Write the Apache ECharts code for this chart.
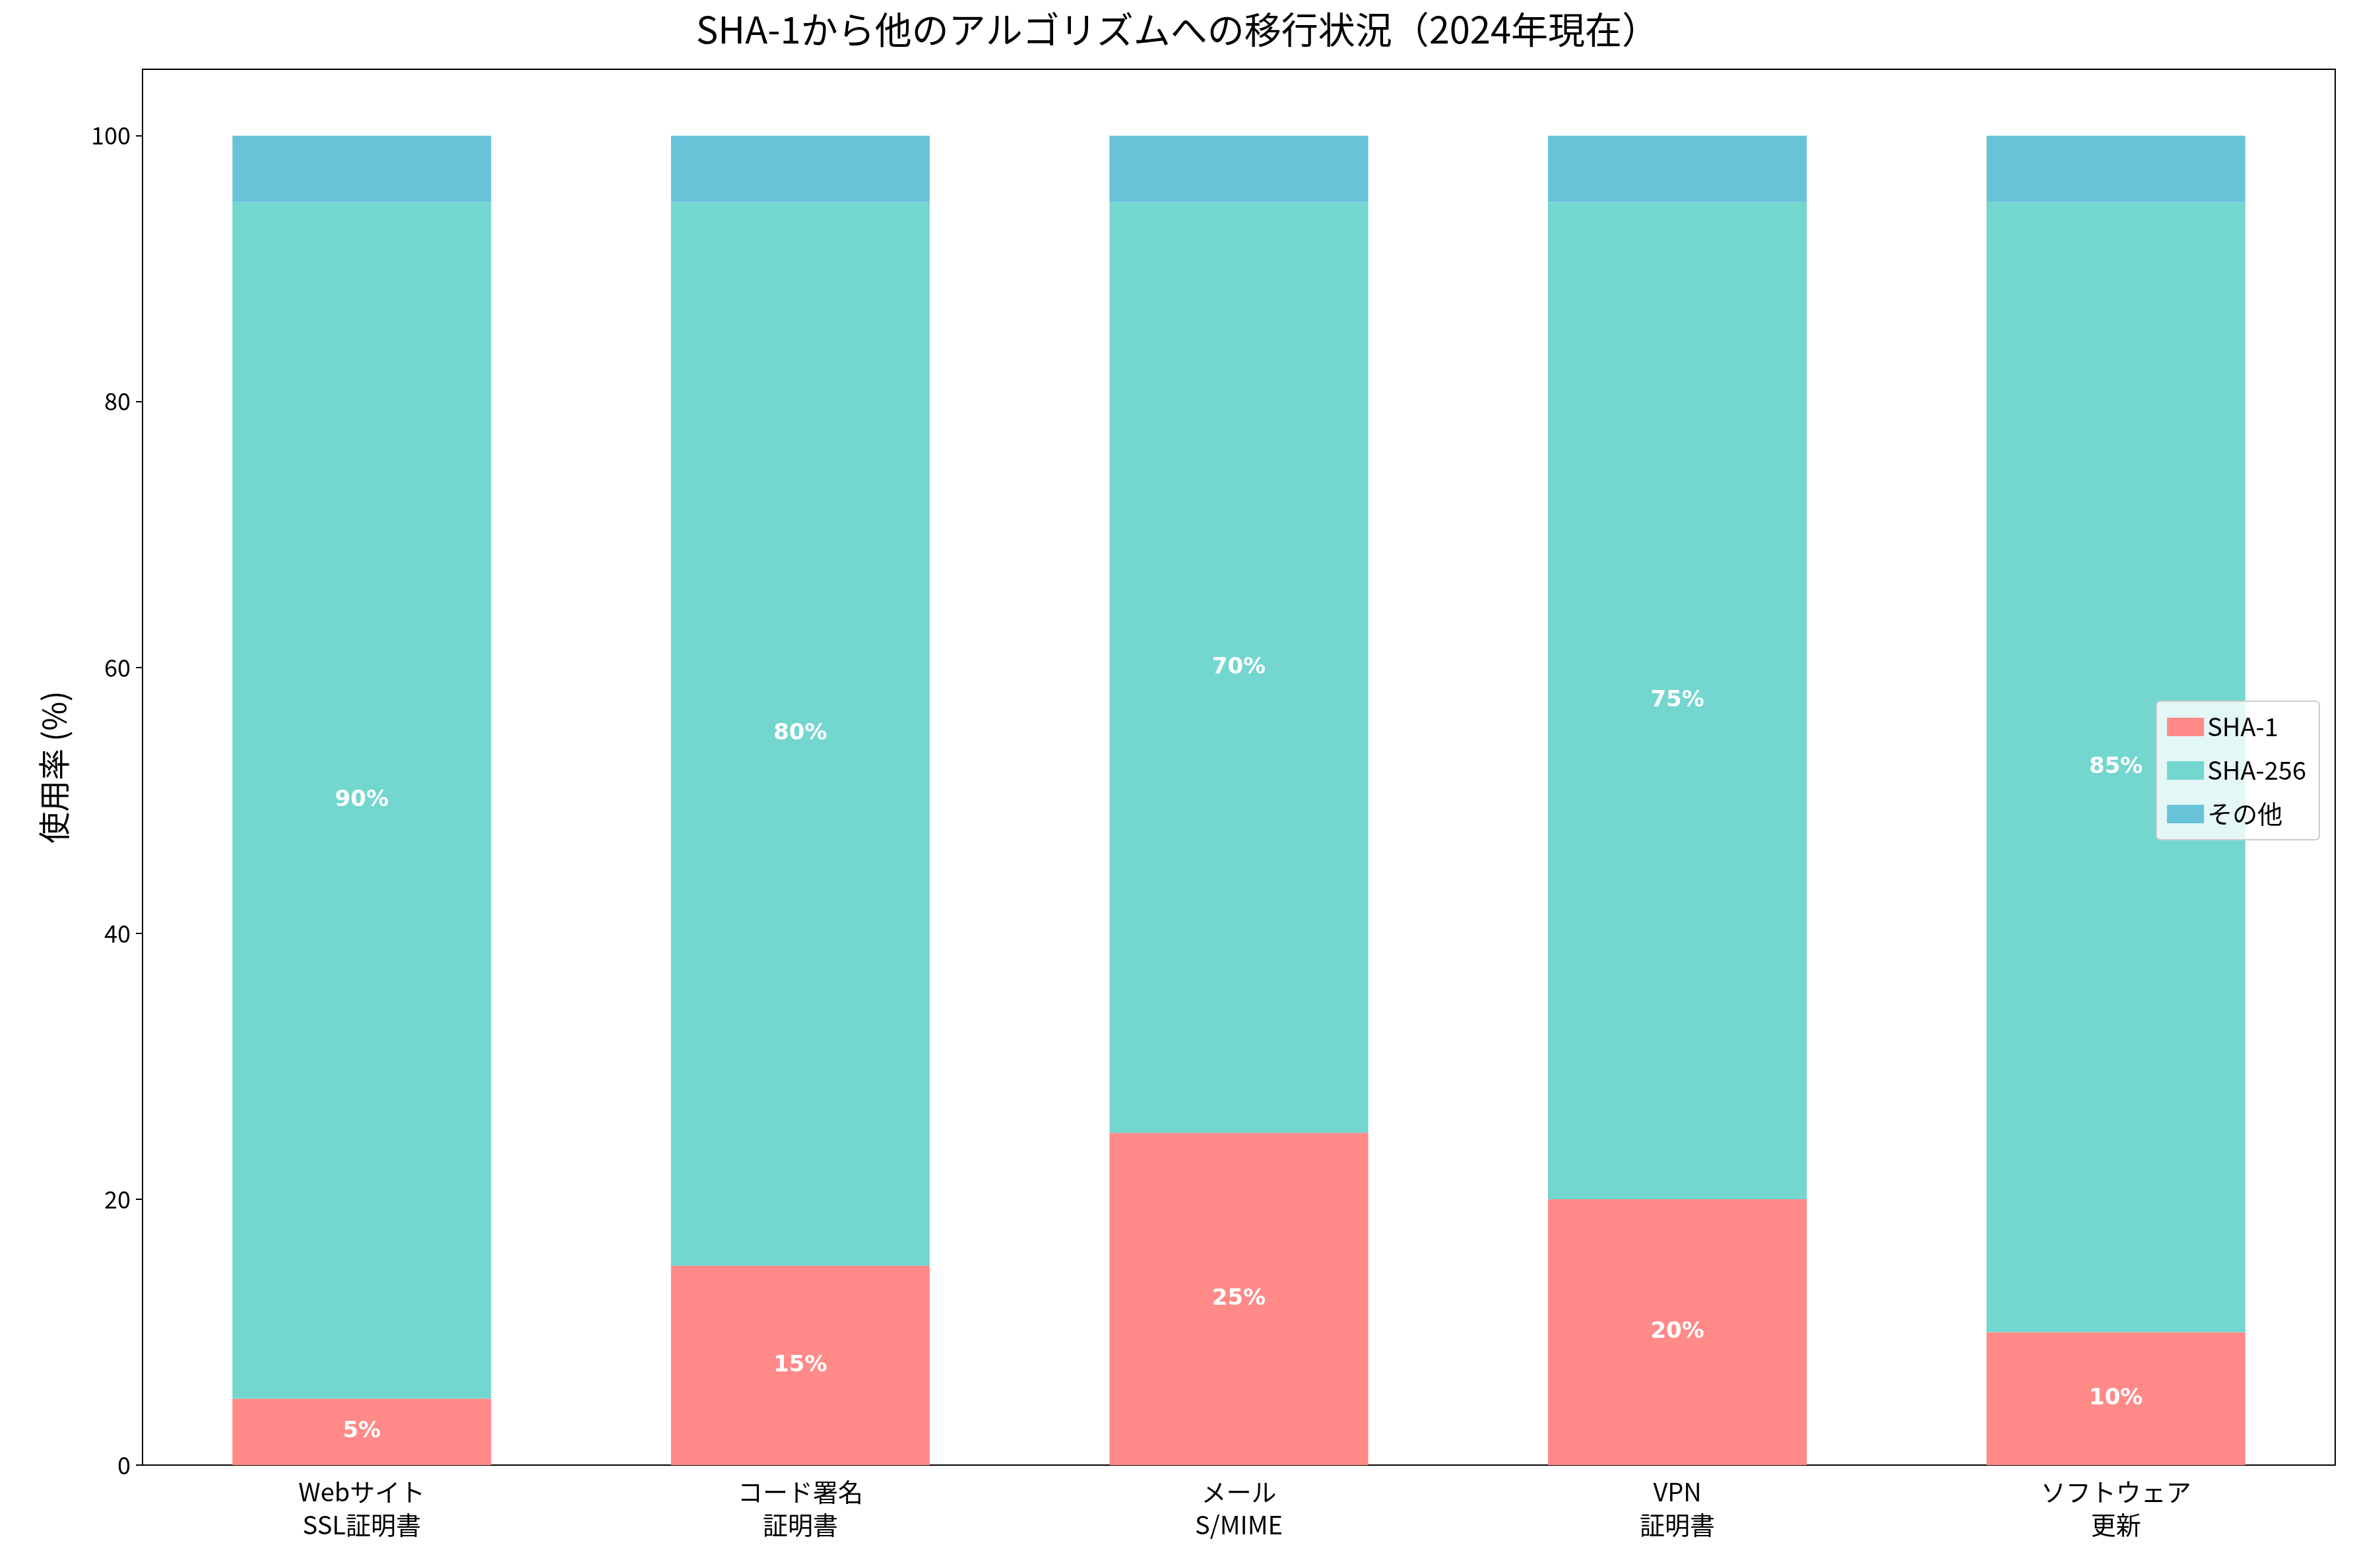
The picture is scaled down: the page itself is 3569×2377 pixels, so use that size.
<!DOCTYPE html>
<html>
<head>
<meta charset="utf-8">
<script src="https://cdn.jsdelivr.net/npm/echarts@6/dist/echarts.min.js"></script>
<style>html,body{margin:0;padding:0;background:#fff}#chart{width:3569px;height:2377px}</style>
</head>
<body>
<div id="chart"></div>
<script>
// カテゴリとデータ
var categories = ['Webサイト\nSSL証明書', 'コード署名\n証明書', 'メール\nS/MIME', 'VPN\n証明書', 'ソフトウェア\n更新'];
var sha1 = [5, 15, 25, 20, 10];
var sha256 = [90, 80, 70, 75, 85];
var others = [5, 5, 5, 5, 5];
var yTicks = [0, 20, 40, 60, 80, 100];

var FONT = '"Noto Sans CJK JP", "DejaVu Sans", sans-serif';
var chart = echarts.init(document.getElementById('chart'));

var label = {
  show: true,
  position: 'inside',
  color: '#fff',
  fontWeight: 'bold',
  fontSize: 34,
  fontFamily: '"DejaVu Sans", sans-serif',
  formatter: function (p) { return p.value + '%'; }
};

var option = {
  backgroundColor: '#fff',
  animation: false,
  textStyle: { fontFamily: FONT },
  title: {
    text: 'SHA-1から他のアルゴリズムへの移行状況（2024年現在）',
    left: 'center', top: 12,
    textStyle: { fontSize: 56, fontWeight: 'normal', color: '#000', fontFamily: FONT }
  },
  grid: { left: 216, right: 30, top: 105, bottom: 156, show: true, borderColor: '#000', borderWidth: 2 },
  legend: {
    orient: 'vertical',
    right: 54, top: 1063,
    icon: 'rect',
    itemWidth: 56, itemHeight: 28, itemGap: 28,
    padding: [20, 20, 20, 16],
    backgroundColor: 'rgba(255,255,255,0.8)',
    borderColor: '#ccc', borderWidth: 2, borderRadius: 6,
    textStyle: { fontSize: 38, color: '#000', fontFamily: FONT },
    data: ['SHA-1', 'SHA-256', 'その他']
  },
  xAxis: {
    type: 'category',
    data: categories,
    axisLine: { lineStyle: { color: '#000', width: 2 } },
    axisTick: { alignWithLabel: true, length: 10, lineStyle: { color: '#000', width: 2 } },
    axisLabel: { fontSize: 38, color: '#000', lineHeight: 50, margin: 16, fontFamily: FONT }
  },
  yAxis: {
    type: 'value',
    min: 0, max: 105, interval: 20,
    name: '使用率 (%)',
    nameLocation: 'middle',
    nameGap: 110,
    nameTextStyle: { fontSize: 48, color: '#000', fontFamily: FONT },
    axisLine: { show: true, lineStyle: { color: '#000', width: 2 } },
    axisTick: { show: true, length: 10, lineStyle: { color: '#000', width: 2 } },
    splitLine: { show: false },
    axisLabel: {
      fontSize: 36, color: '#000', margin: 18, showMaxLabel: false,
      formatter: function (v) { return yTicks.indexOf(v) >= 0 ? v : ''; }
    }
  },
  series: [
    { name: 'SHA-1', type: 'bar', stack: 'a', barWidth: '59%', data: sha1,
      itemStyle: { color: '#FF8A88' }, label: label },
    { name: 'SHA-256', type: 'bar', stack: 'a', data: sha256,
      itemStyle: { color: '#73D6CF' }, label: label },
    { name: 'その他', type: 'bar', stack: 'a', data: others,
      itemStyle: { color: '#68C3D9' } }
  ]
};
chart.setOption(option);
</script>
</body>
</html>
